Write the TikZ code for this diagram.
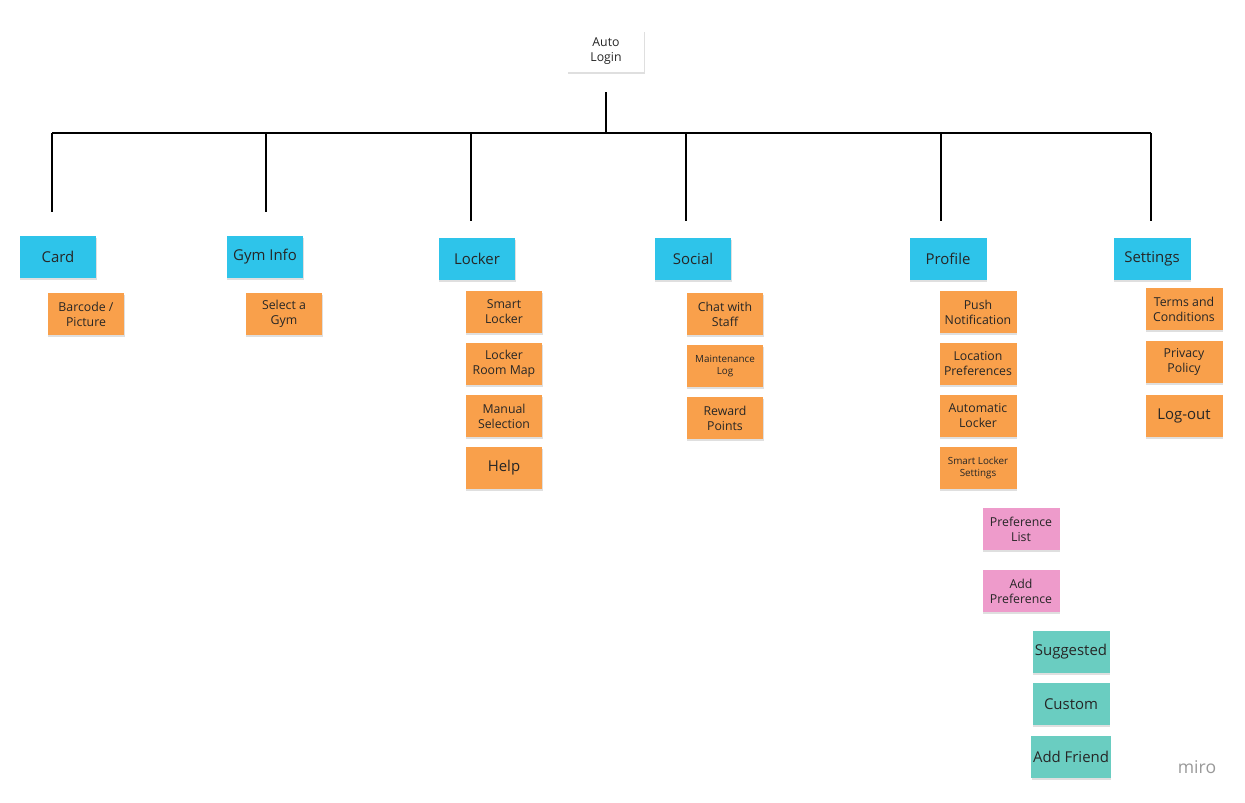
\documentclass[tikz,border=0pt]{standalone}
\usepackage{fontspec}
\setmainfont{Open Sans}
\usetikzlibrary{shadows}
\definecolor{cblue}{HTML}{2EC4EA}
\definecolor{corange}{HTML}{F9A04B}
\definecolor{cpink}{HTML}{EE9BCB}
\definecolor{cteal}{HTML}{6ACDC1}
\tikzset{
 sticky/.style={minimum width=1.54cm,minimum height=0.84cm,inner sep=1pt,align=center,text=black!85,
   font=\fontsize{7}{8.5}\selectfont,drop shadow={shadow xshift=0.3pt,shadow yshift=-1.2pt,opacity=0.25}},
 blue/.style={sticky,fill=cblue,font=\fontsize{8.5}{10}\selectfont},
 orange/.style={sticky,fill=corange},
 pink/.style={sticky,fill=cpink},
 teal/.style={sticky,fill=cteal,font=\fontsize{8.5}{10}\selectfont},
 big/.style={font=\fontsize{8.5}{10}\selectfont},
 tiny/.style={font=\fontsize{5.6}{7}\selectfont},
 conn/.style={line width=1.2pt,black}
}
\begin{document}
\begin{tikzpicture}[x=0.02cm,y=-0.02cm]
\useasboundingbox (0,0) rectangle (1245,802);
\node[sticky,fill=white] (auto) at (606,51) {Auto\\Login};
\coordinate (t) at (606,92);
\coordinate (hub) at (606,133);
\coordinate (hl) at (52,133);
\coordinate (hr) at (1151,133);
\draw[conn] (t) -- (hub);
\draw[conn] (hl) -- (hr);
\foreach \x/\y [count=\i] in {52/212,266/212,471/221,686/221,941/221,1151/221}{
  \coordinate (d\i) at (\x,133); \coordinate (e\i) at (\x,\y);
  \draw[conn] (d\i) -- (e\i);}
\node[blue] (card) at (58,257) {Card};
\node[blue] (gym) at (265,257) {Gym Info};
\node[blue] (locker) at (477,259) {Locker};
\node[blue] (social) at (693,259) {Social};
\node[blue] (profile) at (948,259) {Profile};
\node[blue] (settings) at (1152,259) {Settings};
\node[orange] (bar) at (86,314) {Barcode /\\Picture};
\node[orange] (sel) at (284,314) {Select a\\Gym};
\node[orange] (sl) at (504,312) {Smart\\Locker};
\node[orange] (lrm) at (504,364) {Locker\\Room Map};
\node[orange] (man) at (504,416) {Manual\\Selection};
\node[orange,big] (help) at (504,468) {Help};
\node[orange] (chat) at (725,314) {Chat with\\Staff};
\node[orange,tiny] (maint) at (725,366) {Maintenance\\Log};
\node[orange] (rew) at (725,418) {Reward\\Points};
\node[orange] (push) at (978,312) {Push\\Notification};
\node[orange] (loc) at (978,364) {Location\\Preferences};
\node[orange] (autol) at (978,416) {Automatic\\Locker};
\node[orange,tiny] (sls) at (978,468) {Smart Locker\\Settings};
\node[orange] (terms) at (1184,309) {Terms and\\Conditions};
\node[orange] (priv) at (1184,362) {Privacy\\Policy};
\node[orange,big] (logout) at (1184,416) {Log-out};
\node[pink] (pl) at (1021,529) {Preference\\List};
\node[pink] (ap) at (1021,591) {Add\\Preference};
\node[teal] (sug) at (1071,652) {Suggested};
\node[teal] (cus) at (1071,704) {Custom};
\node[teal] (af) at (1071,757) {Add Friend};
\node[text=black!40,font=\fontsize{10}{12}\selectfont] (miro) at (1197,767) {miro};
\end{tikzpicture}
\end{document}
